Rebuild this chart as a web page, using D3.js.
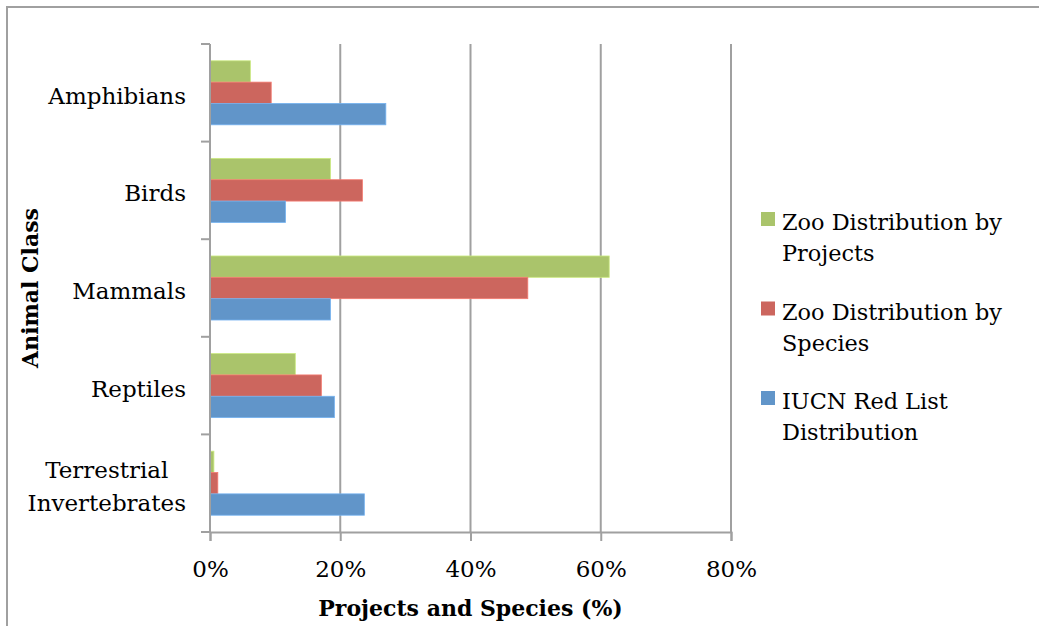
<!DOCTYPE html>
<html>
<head>
<meta charset="utf-8">
<script src="https://cdn.jsdelivr.net/npm/d3@7"></script>
<style>
  html, body { margin: 0; padding: 0; background: #fff; }
  svg { display: block; }
  text { font-family: "DejaVu Serif", "Liberation Serif", serif; fill: #000; }
</style>
</head>
<body>
<svg id="chart" width="1039" height="626"></svg>
<script>
// Animal classes, top to bottom
const categories = ["Amphibians", "Birds", "Mammals", "Reptiles", "Terrestrial Invertebrates"];

// Series names (legend order)
const seriesNames = ["Zoo Distribution by Projects", "Zoo Distribution by Species", "IUCN Red List Distribution"];

// Percentages per class, same order as categories
const zooByProjects = [6.2, 18.5, 61.3, 13.1, 0.6];
const zooBySpecies  = [9.4, 23.4, 48.8, 17.1, 1.2];
const iucnRedList   = [27.0, 11.6, 18.5, 19.1, 23.7];

// Axis ticks
const xTicks = [0, 20, 40, 60, 80];

const seriesValues = [zooByProjects, zooBySpecies, iucnRedList];
const colors = ["#aac46b", "#cc665e", "#6195c9"];

const svg = d3.select("#chart");

// Outer frame
svg.append("rect")
  .attr("x", 7).attr("y", 7)
  .attr("width", 1100).attr("height", 700)
  .attr("fill", "none").attr("stroke", "#a0a0a0").attr("stroke-width", 2);

const x = d3.scaleLinear().domain([0, 80]).range([210, 731]);
const y = d3.scaleBand().domain(categories).range([44, 532]).padding(0);
const step = y.bandwidth();
const groupH = step * 0.656;
const yInner = d3.scaleBand().domain(seriesNames)
  .range([(step - groupH) / 2, (step + groupH) / 2]).padding(0);

const gridColor = "#a0a0a0";

// Vertical gridlines
svg.append("g").selectAll("line")
  .data(xTicks.filter(d => d > 0))
  .join("line")
  .attr("x1", d => x(d)).attr("x2", d => x(d))
  .attr("y1", 44).attr("y2", 532)
  .attr("stroke", gridColor).attr("stroke-width", 2);

// Bars
const rows = [];
categories.forEach((c, i) => {
  seriesNames.forEach((s, j) => rows.push({ cat: c, series: s, value: seriesValues[j][i], color: colors[j] }));
});

svg.append("g").selectAll("rect")
  .data(rows)
  .join("rect")
  .attr("x", x(0))
  .attr("y", d => y(d.cat) + yInner(d.series))
  .attr("width", d => x(d.value) - x(0))
  .attr("height", yInner.bandwidth())
  .attr("fill", d => d.color)
  .attr("stroke", d => d3.color(d.color).brighter(0.5))
  .attr("stroke-width", 0.8);

// Y axis (category boundaries as ticks)
const yAxisG = svg.append("g");
yAxisG.append("line")
  .attr("x1", x(0)).attr("x2", x(0)).attr("y1", 44).attr("y2", 532)
  .attr("stroke", gridColor).attr("stroke-width", 2);
const bounds = categories.map(c => y(c)).concat([y(categories[categories.length - 1]) + step]);
yAxisG.selectAll("line.tick")
  .data(bounds)
  .join("line")
  .attr("class", "tick")
  .attr("x1", x(0) - 9).attr("x2", x(0))
  .attr("y1", d => d).attr("y2", d => d)
  .attr("stroke", gridColor).attr("stroke-width", 2);

// X axis
const xAxis = d3.axisBottom(x)
  .tickValues(xTicks)
  .tickFormat(d => d + "%")
  .tickSize(9)
  .tickPadding(22);
const xg = svg.append("g").attr("transform", "translate(0,532)").call(xAxis);
xg.select(".domain").attr("stroke", gridColor).attr("stroke-width", 2);
xg.selectAll(".tick line").attr("stroke", gridColor).attr("stroke-width", 2);
xg.selectAll(".tick text")
  .attr("font-family", "DejaVu Serif").attr("font-size", 23).attr("fill", "#000")
  .attr("dy", null).attr("y", 45);

// Category labels: multi-line labels centred within a right-aligned block
const wrapLabel = { "Terrestrial Invertebrates": ["Terrestrial", "Invertebrates"] };
const labelG = svg.append("g");
categories.forEach(c => {
  const lines = wrapLabel[c] || [c];
  const cy = y(c) + step / 2;
  const lh = 33;
  const g = labelG.append("g");
  const texts = lines.map((ln, k) =>
    g.append("text")
      .attr("font-size", 23)
      .attr("y", cy + 11 + (k - (lines.length - 1) / 2) * lh)
      .text(ln));
  const widths = texts.map(t => t.node().getComputedTextLength());
  const maxW = Math.max(...widths);
  const right = 186;
  texts.forEach((t, k) => t.attr("x", right - maxW + (maxW - widths[k]) / 2));
});

// Axis titles
svg.append("text")
  .attr("x", (x(0) + x(80)) / 2).attr("y", 616)
  .attr("text-anchor", "middle")
  .attr("font-size", 22).attr("font-weight", "bold")
  .text("Projects and Species (%)");

svg.append("text")
  .attr("transform", "translate(38,288) rotate(-90)")
  .attr("text-anchor", "middle")
  .attr("font-size", 22).attr("font-weight", "bold")
  .text("Animal Class");

// Legend
const legendLines = [["Zoo Distribution by", "Projects"], ["Zoo Distribution by", "Species"], ["IUCN Red List", "Distribution"]];
const legend = svg.append("g").selectAll("g")
  .data(seriesNames)
  .join("g")
  .attr("transform", (d, i) => `translate(761,${212 + i * 89.5})`);
legend.append("rect")
  .attr("width", 14).attr("height", 14)
  .attr("fill", (d, i) => colors[i]);
legend.each(function(d, i) {
  const g = d3.select(this);
  legendLines[i].forEach((ln, k) => {
    g.append("text")
      .attr("x", 21).attr("y", 18 + k * 31)
      .attr("font-size", 22.4)
      .text(ln);
  });
});
</script>
</body>
</html>
